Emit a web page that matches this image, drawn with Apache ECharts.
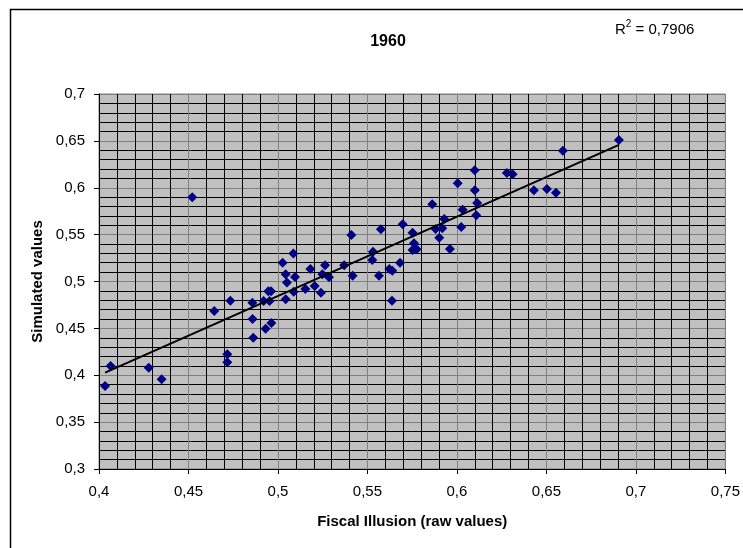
<!DOCTYPE html>
<html>
<head>
<meta charset="utf-8">
<script src="https://cdn.jsdelivr.net/npm/echarts@6/dist/echarts.min.js"></script>
<style>html,body{margin:0;padding:0;background:#fff}#c{width:743px;height:548px}</style>
</head>
<body>
<div id="c"></div>
<script>
const titleText = '1960';
const r2Label = '0,7906';
const xName = 'Fiscal Illusion (raw values)';
const yName = 'Simulated values';
const xTicks = [0.4, 0.75, 0.05];
const yTicks = [0.3, 0.7, 0.05];

const fiscalIllusion = [
  0.4034, 0.4065, 0.4278, 0.4350, 0.4521, 0.4644, 0.4734, 0.4717, 0.4717,
  0.4857, 0.4858, 0.4862, 0.4920, 0.4931, 0.4946, 0.4961, 0.4953, 0.4963,
  0.5026, 0.5043, 0.5050, 0.5043, 0.5086, 0.5095, 0.5088, 0.5153, 0.5181,
  0.5205, 0.5240, 0.5263, 0.5248, 0.5285, 0.5370, 0.5417, 0.5410, 0.5527,
  0.5531, 0.5564, 0.5575, 0.5622, 0.5639, 0.5637, 0.5682, 0.5697, 0.5752,
  0.5760, 0.5752, 0.5775, 0.5862, 0.5881, 0.5901, 0.5918, 0.5929, 0.5961,
  0.6004, 0.6024, 0.6032, 0.6099, 0.6100, 0.6113, 0.6108, 0.6279, 0.6311,
  0.6430, 0.6503, 0.6553, 0.6592, 0.6905
];
const simulated = [
  0.3885, 0.4100, 0.4080, 0.3957, 0.5900, 0.4685, 0.4795, 0.4224, 0.4138,
  0.4774, 0.4600, 0.4400, 0.4792, 0.4497, 0.4895, 0.4895, 0.4792, 0.4557,
  0.5200, 0.5077, 0.4990, 0.4810, 0.5300, 0.5048, 0.4892, 0.4920, 0.5133,
  0.4952, 0.4880, 0.5173, 0.5077, 0.5045, 0.5173, 0.5062, 0.5496, 0.5230,
  0.5318, 0.5062, 0.5557, 0.5133, 0.5115, 0.4795, 0.5200, 0.5610, 0.5520,
  0.5407, 0.5336, 0.5343, 0.5823, 0.5560, 0.5467, 0.5567, 0.5667, 0.5347,
  0.6047, 0.5581, 0.5766, 0.6186, 0.5973, 0.5837, 0.5706, 0.6157, 0.6143,
  0.5973, 0.5987, 0.5947, 0.6395, 0.6509
];

const pts = fiscalIllusion.map((x, i) => [x, simulated[i]]);
// least squares trend line computed from data
const n = pts.length;
let sx = 0, sy = 0, sxx = 0, sxy = 0;
pts.forEach(([x, y]) => { sx += x; sy += y; sxx += x * x; sxy += x * y; });
const slope = (n * sxy - sx * sy) / (n * sxx - sx * sx);
const icpt = (sy - slope * sx) / n;
const xMin = Math.min(...fiscalIllusion), xMax = Math.max(...fiscalIllusion);
const trend = [[xMin, icpt + slope * xMin], [xMax, icpt + slope * xMax]];

const fmt = v => String(+v.toFixed(2)).replace('.', ',');
const FONT = '"Liberation Sans", Arial, sans-serif';

const chart = echarts.init(document.getElementById('c'), null, {renderer: 'canvas'});
chart.setOption({
  backgroundColor: '#fff',
  animation: false,
  title: {
    text: titleText, left: 383, top: 29, textAlign: 'center',
    textStyle: {fontFamily: FONT, fontSize: 16, fontWeight: 'bold', color: '#000'}
  },
  graphic: [
    {type: 'rect', left: 8, top: 7, shape: {width: 745, height: 550},
     style: {fill: 'none', stroke: '#000', lineWidth: 1.5}, silent: true, z: 100},
    {type: 'text', left: 615, top: 19,
     style: {
       text: '{a|R}{s|2}{a| = ' + r2Label + '}',
       rich: {
         a: {fontFamily: FONT, fontSize: 15, color: '#000', verticalAlign: 'bottom', lineHeight: 18},
         s: {fontFamily: FONT, fontSize: 10, color: '#000', verticalAlign: 'top', lineHeight: 18, padding: [0, 0, 8, 0]}
       }
     }}
  ],
  grid: {
    left: 99, top: 94, width: 627, height: 375,
    show: true, backgroundColor: '#C0C0C0', borderColor: '#808080', borderWidth: 1
  },
  xAxis: {
    type: 'value', min: xTicks[0], max: xTicks[1], interval: xTicks[2],
    name: xName, nameLocation: 'middle', nameGap: 45,
    nameTextStyle: {fontFamily: FONT, fontSize: 15, fontWeight: 'bold', color: '#000'},
    axisLine: {show: true, onZero: false, lineStyle: {color: '#000', width: 1}},
    axisTick: {show: true, length: 5, inside: false, lineStyle: {color: '#000'}},
    axisLabel: {formatter: fmt, margin: 15, fontFamily: FONT, fontSize: 15, color: '#000'},
    splitLine: {show: true, lineStyle: {color: '#808080', width: 1}},
    minorTick: {show: false, splitNumber: 5},
    minorSplitLine: {show: true, lineStyle: {color: '#000', width: 1}}
  },
  yAxis: {
    type: 'value', min: yTicks[0], max: yTicks[1], interval: yTicks[2],
    name: yName, nameLocation: 'middle', nameGap: 53, nameRotate: 90,
    nameTextStyle: {fontFamily: FONT, fontSize: 15, fontWeight: 'bold', color: '#000'},
    axisLine: {show: true, onZero: false, lineStyle: {color: '#000', width: 1}},
    axisTick: {show: true, length: 5, inside: false, lineStyle: {color: '#000'}},
    axisLabel: {formatter: fmt, margin: 14, fontFamily: FONT, fontSize: 15, color: '#000'},
    splitLine: {show: true, lineStyle: {color: '#808080', width: 1}},
    minorTick: {show: false, splitNumber: 5},
    minorSplitLine: {show: true, lineStyle: {color: '#000', width: 1}}
  },
  series: [
    {
      type: 'scatter', data: pts, symbol: 'diamond', symbolSize: [10, 10],
      itemStyle: {color: '#000080', opacity: 1}, z: 3
    },
    {
      type: 'line', data: trend, symbol: 'none', silent: true,
      lineStyle: {color: '#000', width: 2}, z: 4
    }
  ]
});
</script>
</body>
</html>
